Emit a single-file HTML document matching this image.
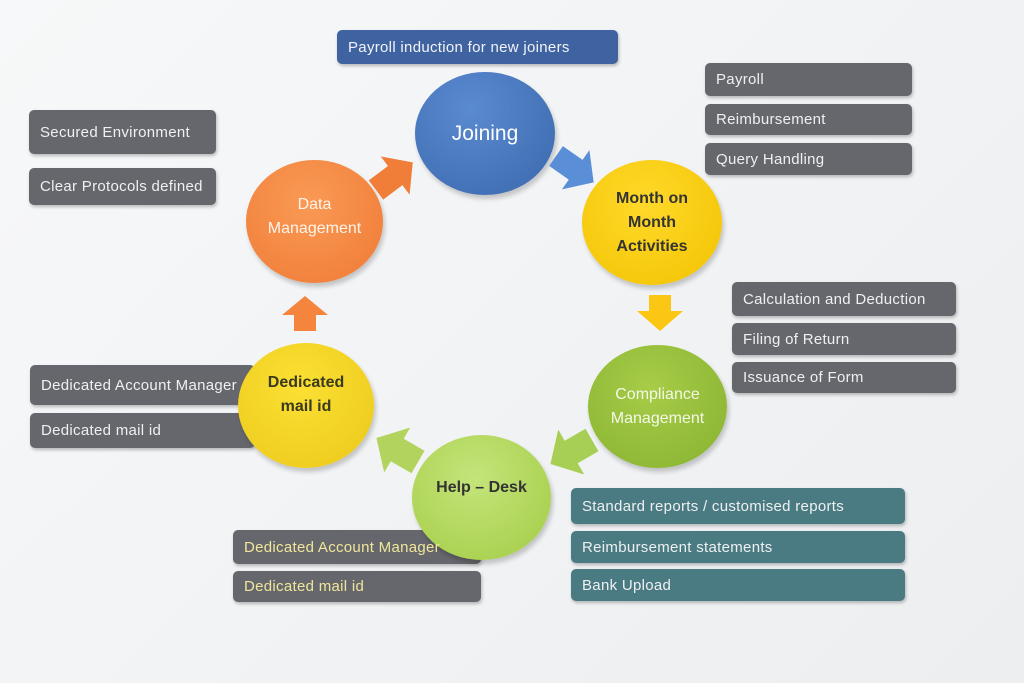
<!DOCTYPE html>
<html><head><meta charset="utf-8"><style>
body{margin:0;width:1024px;height:683px;overflow:hidden;background:linear-gradient(135deg,#f7f8f9,#eceef0);font-family:"Liberation Sans",sans-serif;position:relative}
.b{position:absolute;border-radius:5px;background:#66676c;color:#eef0f2;font-size:15px;display:flex;align-items:center;padding-left:11px;box-sizing:border-box;box-shadow:1px 2px 3px rgba(0,0,0,.25);letter-spacing:.3px}
.t{background:#4b7b82}
.y{color:#f0e69a}
.c{position:absolute;border-radius:50%;display:flex;align-items:center;justify-content:center;text-align:center;font-weight:bold;font-size:16px;line-height:24px;box-shadow:2px 4px 5px rgba(0,0,0,.2)}
svg{position:absolute;left:0;top:0}
</style></head><body>
<div class="b" style="left:337px;top:30px;width:281px;height:34px;background:#3f62a0;color:#f2f4f8">Payroll induction for new joiners</div>
<div class="b" style="left:705px;top:63px;width:207px;height:33px">Payroll</div>
<div class="b" style="left:705px;top:104px;width:207px;height:31px">Reimbursement</div>
<div class="b" style="left:705px;top:143px;width:207px;height:32px">Query Handling</div>
<div class="b" style="left:29px;top:110px;width:187px;height:44px">Secured Environment</div>
<div class="b" style="left:29px;top:168px;width:187px;height:37px">Clear Protocols defined</div>
<div class="b" style="left:732px;top:282px;width:224px;height:34px">Calculation and Deduction</div>
<div class="b" style="left:732px;top:323px;width:224px;height:32px">Filing of Return</div>
<div class="b" style="left:732px;top:362px;width:224px;height:31px">Issuance of Form</div>
<div class="b" style="left:30px;top:365px;width:225px;height:40px">Dedicated Account Manager</div>
<div class="b" style="left:30px;top:413px;width:225px;height:35px">Dedicated mail id</div>
<div class="b t" style="left:571px;top:488px;width:334px;height:36px">Standard reports / customised reports</div>
<div class="b t" style="left:571px;top:531px;width:334px;height:32px">Reimbursement statements</div>
<div class="b t" style="left:571px;top:569px;width:334px;height:32px">Bank Upload</div>
<div class="b" style="left:233px;top:530px;width:248px;height:34px"></div>
<div class="b y" style="left:233px;top:571px;width:248px;height:31px">Dedicated mail id</div>

<div class="c" style="left:415px;top:72px;width:140px;height:123px;background:radial-gradient(circle at 40% 30%,#5a8ad0,#3b68ad);color:#fff;font-size:21px;font-weight:normal">Joining</div>
<div class="c" style="left:582px;top:160px;width:140px;height:125px;background:radial-gradient(circle at 45% 35%,#ffd92a,#f2c200);color:#333">Month on<br>Month<br>Activities</div>
<div class="c" style="left:588px;top:345px;width:139px;height:123px;background:radial-gradient(circle at 45% 35%,#a7cc48,#86b230);color:#f4f8e8;font-weight:normal">Compliance<br>Management</div>
<div class="c" style="left:412px;top:435px;width:139px;height:125px;background:radial-gradient(circle at 45% 35%,#c4e47a,#a3cc45);color:#333;padding-bottom:20px;box-sizing:border-box">Help – Desk</div>
<div class="c" style="left:238px;top:343px;width:136px;height:125px;background:radial-gradient(circle at 45% 35%,#fbe033,#ebc81a);color:#3a3a20;padding-bottom:22px;box-sizing:border-box">Dedicated<br>mail id</div>
<div class="c" style="left:246px;top:160px;width:137px;height:123px;background:radial-gradient(circle at 45% 35%,#f99a55,#ef7a35);color:#fff4ea;font-weight:normal;padding-bottom:10px;box-sizing:border-box">Data<br>Management</div>
<div style="position:absolute;left:244px;top:530px;height:34px;display:flex;align-items:center;font-size:15px;color:#f0e69a;letter-spacing:.3px">Dedicated Account Manager</div>

<svg width="1024" height="683">
<polygon points="0,-12 24,-12 24,-24 46,0 24,24 24,12 0,12" fill="#5a8fd8" transform="translate(556,156) rotate(35)"/>
<polygon points="0,-12 24,-12 24,-24 46,0 24,24 24,12 0,12" fill="#f07e38" transform="translate(376,190) rotate(-37)"/>
<polygon points="-11,0 -11,-16 -23,-16 0,-35 23,-16 11,-16 11,0" fill="#f5843c" transform="translate(305,331)"/>
<polygon points="-11,0 -11,16 -23,16 0,36 23,16 11,16 11,0" fill="#fcc614" transform="translate(660,295)"/>
<polygon points="0,-13 24,-13 24,-26 48,0 24,26 24,13 0,13" fill="#a8cf55" transform="translate(592,440) rotate(150)"/>
<polygon points="0,-13 24,-13 24,-26 48,0 24,26 24,13 0,13" fill="#b2d45e" transform="translate(418,462) rotate(-150)"/>
</svg>
</body></html>
